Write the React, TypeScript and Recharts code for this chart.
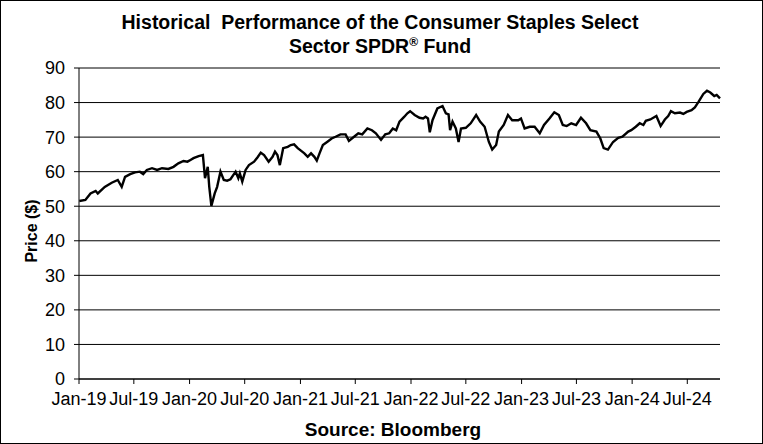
import React from 'react';
import { LineChart, Line, XAxis, YAxis, CartesianGrid, Label } from 'recharts';

const FONT = 'Arial, "Liberation Sans", sans-serif';

// weekly-ish closing prices
const dates = [
  '2019-01-02', '2019-01-22', '2019-02-08', '2019-02-25', '2019-03-04', '2019-03-27', '2019-04-19', '2019-05-09',
  '2019-05-22', '2019-06-02', '2019-06-19', '2019-07-05', '2019-07-21', '2019-08-01', '2019-08-13', '2019-08-30',
  '2019-09-16', '2019-10-02', '2019-10-23', '2019-11-09', '2019-11-25', '2019-12-12', '2019-12-25', '2020-01-04',
  '2020-01-14', '2020-01-31', '2020-02-14', '2020-02-21', '2020-03-01', '2020-03-06', '2020-03-13', '2020-03-24',
  '2020-04-01', '2020-04-12', '2020-04-23', '2020-05-04', '2020-05-15', '2020-06-01', '2020-06-10', '2020-06-15',
  '2020-06-23', '2020-07-04', '2020-07-15', '2020-08-01', '2020-08-12', '2020-08-23', '2020-09-03', '2020-09-18',
  '2020-10-01', '2020-10-09', '2020-10-17', '2020-10-25', '2020-11-05', '2020-11-20', '2020-11-30', '2020-12-11',
  '2020-12-23', '2021-01-14', '2021-01-25', '2021-02-05', '2021-02-16', '2021-02-24', '2021-03-05', '2021-03-16',
  '2021-03-30', '2021-04-14', '2021-04-27', '2021-05-13', '2021-05-30', '2021-06-10', '2021-06-27', '2021-07-11',
  '2021-07-24', '2021-08-10', '2021-08-25', '2021-09-07', '2021-09-24', '2021-10-08', '2021-10-21', '2021-11-02',
  '2021-11-13', '2021-11-24', '2021-12-10', '2021-12-20', '2021-12-29', '2022-01-13', '2022-01-29', '2022-02-10',
  '2022-02-18', '2022-02-26', '2022-03-04', '2022-03-13', '2022-03-29', '2022-04-15', '2022-04-26', '2022-05-05',
  '2022-05-10', '2022-05-18', '2022-05-29', '2022-06-07', '2022-06-15', '2022-07-01', '2022-07-17', '2022-08-04',
  '2022-08-17', '2022-09-01', '2022-09-15', '2022-09-26', '2022-10-09', '2022-10-18', '2022-11-03', '2022-11-17',
  '2022-12-01', '2022-12-21', '2022-12-30', '2023-01-11', '2023-01-28', '2023-02-13', '2023-03-02', '2023-03-16',
  '2023-04-03', '2023-04-19', '2023-05-04', '2023-05-17', '2023-05-30', '2023-06-14', '2023-06-30', '2023-07-16',
  '2023-08-02', '2023-08-16', '2023-09-05', '2023-09-18', '2023-09-29', '2023-10-13', '2023-10-30', '2023-11-16',
  '2023-11-30', '2023-12-19', '2023-12-29', '2024-01-13', '2024-01-26', '2024-02-07', '2024-02-15', '2024-03-01',
  '2024-03-21', '2024-04-04', '2024-04-18', '2024-04-29', '2024-05-08', '2024-05-21', '2024-06-07', '2024-06-18',
  '2024-06-29', '2024-07-15', '2024-07-26', '2024-08-07', '2024-08-23', '2024-09-04', '2024-09-15', '2024-09-28',
  '2024-10-06', '2024-10-17',
];

const prices = [
  51.5, 51.8, 53.7, 54.4, 53.7, 55.6, 56.8, 57.6,
  55.6, 58.5, 59.3, 59.8, 60.0, 59.3, 60.5, 61.0,
  60.5, 61.0, 60.8, 61.4, 62.4, 63.1, 62.9, 63.4,
  63.9, 64.5, 64.8, 58.1, 61.4, 55.6, 50.1, 53.7,
  55.6, 60.0, 57.6, 57.4, 57.8, 60.0, 58.1, 59.5,
  57.1, 60.5, 61.9, 62.9, 64.1, 65.5, 64.8, 62.9,
  64.3, 65.8, 64.8, 61.9, 66.8, 67.2, 67.7, 67.9,
  66.8, 65.3, 64.3, 65.3, 64.3, 63.2, 65.3, 67.7,
  68.6, 69.6, 70.1, 70.8, 70.8, 68.9, 70.1, 71.1,
  70.8, 72.5, 72.0, 71.1, 69.2, 70.8, 71.1, 72.5,
  72.0, 74.5, 75.9, 76.9, 77.5, 76.4, 75.6, 75.4,
  75.9, 75.4, 71.4, 74.9, 78.3, 79.0, 76.9, 76.6,
  72.0, 74.5, 72.5, 68.6, 72.5, 72.7, 74.0, 76.4,
  74.5, 73.0, 68.6, 66.4, 67.7, 71.6, 73.5, 76.4,
  74.9, 74.9, 75.4, 72.5, 73.0, 73.0, 71.1, 73.5,
  75.4, 77.2, 76.4, 73.5, 73.2, 74.0, 73.5, 75.6,
  74.0, 72.0, 71.6, 69.6, 66.8, 66.4, 68.6, 69.8,
  70.1, 71.6, 72.0, 73.0, 74.0, 73.5, 74.7, 75.1,
  76.1, 73.2, 75.1, 76.1, 77.5, 76.9, 77.1, 76.7,
  77.3, 77.8, 78.6, 80.2, 82.5, 83.4, 82.9, 81.9,
  82.2, 81.2,
];

const tickDates = [
  '2019-01-01', '2019-07-01', '2020-01-01', '2020-07-01', '2021-01-01', '2021-07-01',
  '2022-01-01', '2022-07-01', '2023-01-01', '2023-07-01', '2024-01-01', '2024-07-01',
];
const yTicks = [0, 10, 20, 30, 40, 50, 60, 70, 80, 90];
const MONTHS = ['Jan', 'Feb', 'Mar', 'Apr', 'May', 'Jun', 'Jul', 'Aug', 'Sep', 'Oct', 'Nov', 'Dec'];

const data = dates.map((d, i) => ({ t: Date.parse(d), price: prices[i] }));
const xTicks = tickDates.map((d) => Date.parse(d));

const fmtDate = (t: number) => {
  const d = new Date(t);
  return `${MONTHS[d.getUTCMonth()]}-${String(d.getUTCFullYear()).slice(2)}`;
};

const PriceLabel = () => (
  <text
    x={30}
    y={230}
    transform="rotate(-90 30 230)"
    textAnchor="middle"
    dominantBaseline="central"
    style={{ fontWeight: 'bold', fontSize: 16, fill: '#000', fontFamily: FONT }}
  >
    Price ($)
  </text>
);

export default function App() {
  return (
    <div
      style={{
        position: 'absolute', left: 0, top: 0, width: 763, height: 444,
        border: '1px solid #000', boxSizing: 'border-box', background: '#fff', fontFamily: FONT,
      }}
    >
      <div
        style={{
          position: 'absolute', left: 0, top: 9, width: 758, textAlign: 'center',
          fontWeight: 'bold', fontSize: 19.5, lineHeight: '24px', color: '#000',
        }}
      >
        Historical&nbsp; Performance of the Consumer Staples Select
        <br />
        Sector SPDR<sup style={{ fontSize: 12, lineHeight: 0 }}>®</sup> Fund
      </div>
      <LineChart
        width={761}
        height={442}
        data={data}
        margin={{ top: 67, right: 42, bottom: 34, left: 0 }}
        style={{ position: 'absolute', left: 0, top: 0 }}
      >
        <CartesianGrid horizontal vertical={false} stroke="#000" strokeWidth={1} />
        <XAxis
          dataKey="t"
          type="number"
          domain={[xTicks[0], data[data.length - 1].t]}
          ticks={xTicks}
          tickFormatter={fmtDate}
          interval={0}
          height={30}
          stroke="#000"
          tickSize={5}
          tickMargin={8}
          tick={{ fill: '#000', fontSize: 18, fontFamily: FONT }}
        />
        <YAxis
          domain={[0, 90]}
          ticks={yTicks}
          interval={0}
          width={78}
          stroke="#000"
          tickSize={5}
          tickMargin={9}
          tick={{ fill: '#000', fontSize: 18, fontFamily: FONT }}
        >
          <Label content={<PriceLabel />} />
        </YAxis>
        <Line
          type="linear"
          dataKey="price"
          stroke="#000"
          strokeWidth={2.4}
          dot={false}
          isAnimationActive={false}
        />
      </LineChart>
      <div
        style={{
          position: 'absolute', left: 292, top: 418, width: 200, textAlign: 'center',
          fontWeight: 'bold', fontSize: 19, color: '#000',
        }}
      >
        Source: Bloomberg
      </div>
    </div>
  );
}
